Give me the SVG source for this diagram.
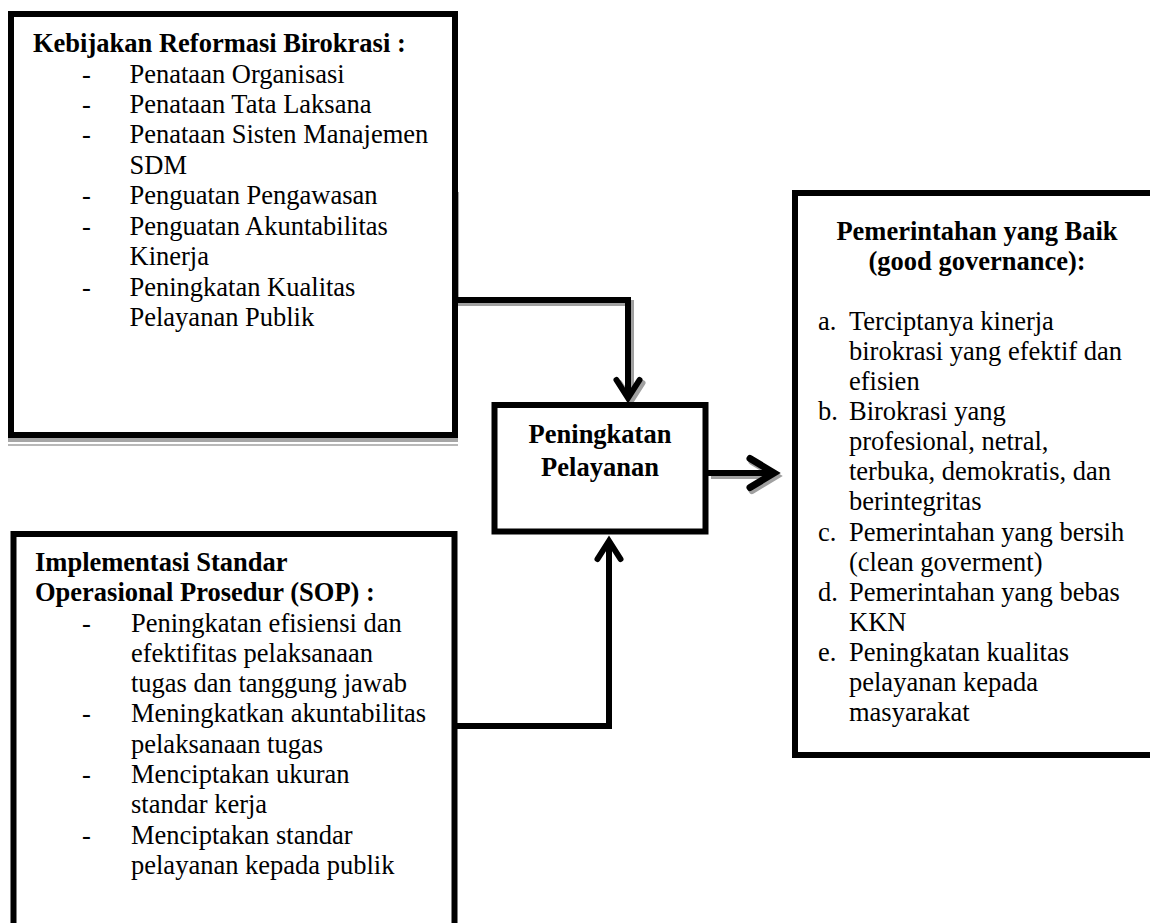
<svg xmlns="http://www.w3.org/2000/svg" width="1150" height="923" viewBox="0 0 1150 923">
<style>
text { font-family: "Liberation Serif", "Times New Roman", serif; font-size: 26.5px; fill: #000; }
.b { font-weight: bold; }
.c { text-anchor: middle; }
.box { fill: #fff; stroke: #000; stroke-width: 6; }
.conn { fill: none; stroke: #000; stroke-width: 6; }
.shadow { fill: none; stroke: #a0a0a0; stroke-width: 6; }
</style>
<defs>
<marker id="chev" markerUnits="userSpaceOnUse" viewBox="-30 -20 40 40" markerWidth="40" markerHeight="40" refX="0" refY="0" orient="auto" overflow="visible">
<path d="M-18,-11.5 L0,0 L-18,11.5" fill="none" stroke="#000" stroke-width="6" stroke-linecap="round"/>
</marker>
<marker id="chevS" markerUnits="userSpaceOnUse" viewBox="-30 -20 40 40" markerWidth="40" markerHeight="40" refX="0" refY="0" orient="auto" overflow="visible">
<path d="M-18,-11.5 L0,0 L-18,11.5" fill="none" stroke="#a0a0a0" stroke-width="6" stroke-linecap="round"/>
</marker>
<marker id="chevL" markerUnits="userSpaceOnUse" viewBox="-30 -20 40 40" markerWidth="40" markerHeight="40" refX="0" refY="0" orient="auto" overflow="visible">
<path d="M-24,-14.5 L0,0 L-24,14.5" fill="none" stroke="#000" stroke-width="7" stroke-linecap="round"/>
</marker>
<marker id="chevLS" markerUnits="userSpaceOnUse" viewBox="-30 -20 40 40" markerWidth="40" markerHeight="40" refX="0" refY="0" orient="auto" overflow="visible">
<path d="M-24,-14.5 L0,0 L-24,14.5" fill="none" stroke="#a0a0a0" stroke-width="7" stroke-linecap="round"/>
</marker>
</defs>
<rect x="0" y="0" width="1150" height="923" fill="#fff"/>

<g id="node-reformasi">
<rect x="8" y="438" width="450" height="4" fill="#a6a6a6"/>
<rect x="8" y="444" width="450" height="2" fill="#b8b8b8"/>
<rect x="457" y="192" width="2" height="105" fill="#a6a6a6"/>
<rect class="box" x="11" y="14" width="444" height="421"/>
<text class="b" x="33" y="52">Kebijakan Reformasi Birokrasi :</text>
<text x="82" y="82.5">-</text><text x="129.5" y="82.5">Penataan Organisasi</text>
<text x="82" y="112.9">-</text><text x="129.5" y="112.9">Penataan Tata Laksana</text>
<text x="82" y="143.4">-</text><text x="129.5" y="143.4">Penataan Sisten Manajemen</text>
<text x="129.5" y="173.8">SDM</text>
<text x="82" y="204.3">-</text><text x="129.5" y="204.3">Penguatan Pengawasan</text>
<text x="82" y="234.7">-</text><text x="129.5" y="234.7">Penguatan Akuntabilitas</text>
<text x="129.5" y="265.2">Kinerja</text>
<text x="82" y="295.6">-</text><text x="129.5" y="295.6">Peningkatan Kualitas</text>
<text x="129.5" y="326">Pelayanan Publik</text>
</g>

<g id="node-sop">
<rect class="box" x="13.5" y="534" width="441" height="420"/>
<text class="b" x="35" y="571">Implementasi Standar</text>
<text class="b" x="35" y="601">Operasional Prosedur (SOP) :</text>
<text x="82" y="631.5">-</text><text x="131" y="631.5">Peningkatan efisiensi dan</text>
<text x="131" y="661.8">efektifitas pelaksanaan</text>
<text x="131" y="692.1">tugas dan tanggung jawab</text>
<text x="82" y="722.4">-</text><text x="131" y="722.4">Meningkatkan akuntabilitas</text>
<text x="131" y="752.7">pelaksanaan tugas</text>
<text x="82" y="783">-</text><text x="131" y="783">Menciptakan ukuran</text>
<text x="131" y="813.3">standar kerja</text>
<text x="82" y="843.6">-</text><text x="131" y="843.6">Menciptakan standar</text>
<text x="131" y="873.9">pelayanan kepada publik</text>
</g>

<g id="connectors">
<path class="shadow" d="M458,303 H631 V401" marker-end="url(#chevS)"/>
<path class="shadow" d="M711,476 H776" stroke-width="7" marker-end="url(#chevLS)"/>
<path class="conn" d="M455,300 H628 V398" marker-end="url(#chev)"/>
<path class="conn" d="M455,726 H609 V541" marker-end="url(#chev)"/>
<path class="conn" d="M708,473 H774" stroke-width="7" marker-end="url(#chevL)"/>
</g>

<g id="node-peningkatan">
<rect class="box" x="494.5" y="405" width="211" height="126.5" stroke-width="5.5"/>
<text class="b c" x="600" y="443">Peningkatan</text>
<text class="b c" x="600" y="476">Pelayanan</text>
</g>

<g id="node-good-governance">
<rect class="box" x="795" y="193" width="400" height="562"/>
<text class="b c" x="977" y="240">Pemerintahan yang Baik</text>
<text class="b c" x="977" y="270">(good governance):</text>
<text x="818" y="330">a.</text><text x="849" y="330">Terciptanya kinerja</text>
<text x="849" y="360">birokrasi yang efektif dan</text>
<text x="849" y="390">efisien</text>
<text x="818" y="420">b.</text><text x="849" y="420">Birokrasi yang</text>
<text x="849" y="450">profesional, netral,</text>
<text x="849" y="480">terbuka, demokratis, dan</text>
<text x="849" y="510">berintegritas</text>
<text x="818" y="541">c.</text><text x="849" y="541">Pemerintahan yang bersih</text>
<text x="849" y="571">(clean goverment)</text>
<text x="818" y="601">d.</text><text x="849" y="601">Pemerintahan yang bebas</text>
<text x="849" y="631">KKN</text>
<text x="818" y="661">e.</text><text x="849" y="661">Peningkatan kualitas</text>
<text x="849" y="691">pelayanan kepada</text>
<text x="849" y="721">masyarakat</text>
</g>
</svg>
